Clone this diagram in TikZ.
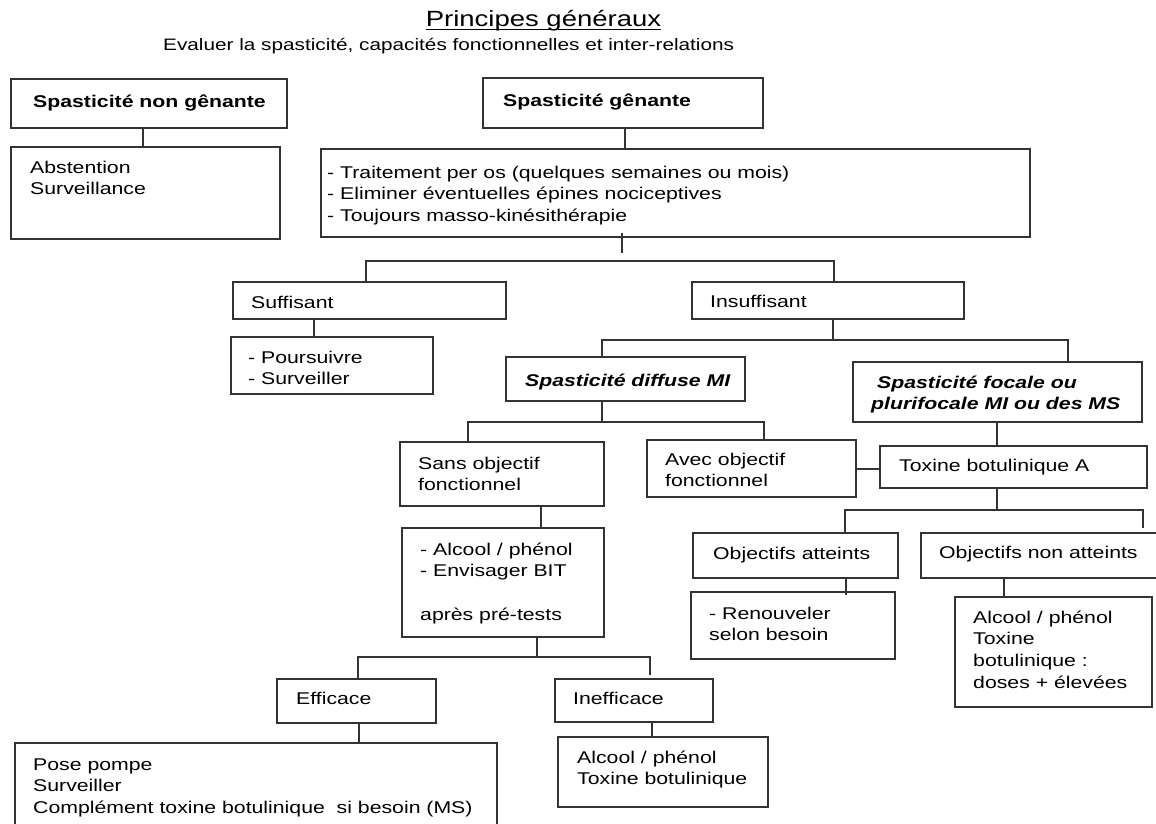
\documentclass[tikz,border=0pt]{standalone}
\usepackage{fontspec}
\setmainfont{Liberation Sans}[FakeStretch=1.25]
\usetikzlibrary{fit}
\definecolor{lc}{HTML}{333333}
\tikzset{
  bx/.style={draw=lc, line width=1.1pt, inner sep=0pt, rectangle},
  ln/.style={draw=lc, line width=1.1pt},
  tx/.style={inner sep=0pt, anchor=base west, align=left, font=\fontsize{17}{21.7}\selectfont},
  tb/.style={tx, font=\fontsize{17}{21.7}\selectfont\bfseries},
  tbi/.style={tx, font=\fontsize{17}{21.7}\selectfont\bfseries\itshape},
}
\begin{document}
\begin{tikzpicture}[x=1pt, y=-1pt]
\fill[white] (0,0) rectangle (1156,823);
\clip (0,0) rectangle (1156,823);

% title
\node[inner sep=0pt, anchor=base, font=\fontsize{22}{26}\selectfont] (title) at (543.5,26) {Principes généraux};
\draw[line width=1.1pt, black] ([yshift=-3.5pt]title.base west) -- ([yshift=-3.5pt]title.base east);
\node[inner sep=0pt, anchor=base west, font=\fontsize{16.6}{20}\selectfont] (subtitle) at (163,50) {Evaluer la spasticité, capacités fonctionnelles et inter-relations};

% boxes
\node[bx, fit={(11,79) (287,128)}] (snog) {};
\node[bx, fit={(11,147) (280,239)}] (abst) {};
\node[bx, fit={(483,78) (763,128)}] (sg) {};
\node[bx, fit={(321,149) (1030,237)}] (trait) {};
\node[bx, fit={(233,282) (506,319)}] (suff) {};
\node[bx, fit={(231,337) (433,394)}] (pours) {};
\node[bx, fit={(692,282) (964,319)}] (insuff) {};
\node[bx, fit={(506,357) (745,401)}] (diffuse) {};
\node[bx, fit={(853,362) (1142,422)}] (focale) {};
\node[bx, fit={(400,442) (604,506)}] (sans) {};
\node[bx, fit={(647,440) (856,497)}] (avec) {};
\node[bx, fit={(880,446) (1147,488)}] (toxA) {};
\node[bx, fit={(693,533) (898,578)}] (objA) {};
\node[bx, fit={(691,592) (895,659)}] (renouv) {};
\node[bx, fit={(921,533) (1165,578)}] (objNA) {};
\node[bx, fit={(955,597) (1152,707)}] (alcR) {};
\node[bx, fit={(402,528) (604,637)}] (alcL) {};
\node[bx, fit={(277,679) (436,723)}] (eff) {};
\node[bx, fit={(15,743) (497,835)}] (pose) {};
\node[bx, fit={(555,679) (713,722)}] (ineff) {};
\node[bx, fit={(558,737) (768,807)}] (alcB) {};

% texts (multi-line nodes: anchor at baseline of last line)
\node[tb] (tsnog) at (33,107) {Spasticité non gênante};
\node[tx] (tabst) at (30,194.7) {Abstention\\Surveillance};
\node[tb] (tsg) at (503,106) {Spasticité gênante};
\node[tx] (ttrait) at (327,221.4) {- Traitement per os (quelques semaines ou mois)\\- Eliminer éventuelles épines nociceptives\\- Toujours masso-kinésithérapie};
\node[tx] (tsuff) at (251,308) {Suffisant};
\node[tx] (tpours) at (248,384.7) {- Poursuivre\\- Surveiller};
\node[tx] (tinsuff) at (710,307) {Insuffisant};
\node[tbi] (tdiffuse) at (525,386) {Spasticité diffuse MI};
\node[tbi] (tfocale) at (871,409.7) {\hspace*{6pt}Spasticité focale ou\\plurifocale MI ou des MS};
\node[tx] (tsans) at (418,490.7) {Sans objectif\\fonctionnel};
\node[tx] (tavec) at (665,486.7) {Avec objectif\\fonctionnel};
\node[tx] (ttoxA) at (899,471) {Toxine botulinique A};
\node[tx] (tobjA) at (713,559) {Objectifs atteints};
\node[tx] (tobjNA) at (939,558) {Objectifs non atteints};
\node[tx] (trenouv) at (709,640.7) {- Renouveler\\selon besoin};
\node[tx] (talcR) at (973,688.1) {Alcool / phénol\\Toxine\\botulinique :\\doses + élevées};
\node[tx] (talcL) at (420,620.1) {- Alcool / phénol\\- Envisager BIT\\[21.7pt]après pré-tests};
\node[tx] (teff) at (296,704) {Efficace};
\node[tx] (tpose) at (33,813.4) {Pose pompe\\Surveiller\\Complément toxine botulinique~ si besoin (MS)};
\node[tx] (tineff) at (573,704) {Inefficace};
\node[tx] (talcB) at (577,784.7) {Alcool / phénol\\Toxine botulinique};

% connectors
\draw[ln] (snog.south -| 143,0) -- (abst.north -| 143,0);
\draw[ln] (sg.south -| 625,0) -- (trait.north -| 625,0);
\coordinate (c3) at (622,253);
\draw[ln] ([yshift=5pt]trait.south -| c3) -- (c3);
\coordinate (h3a) at (366,261); \coordinate (h3b) at (834,261);
\draw[ln] (suff.north -| h3a) -- (h3a) -- (h3b) -- (insuff.north -| h3b);
\draw[ln] (suff.south -| 314,0) -- (pours.north -| 314,0);
\coordinate (h5a) at (602,340); \coordinate (h5b) at (1068,340);
\draw[ln] (insuff.south -| 833,0) -- (h5a -| 833,0);
\draw[ln] (diffuse.north -| h5a) -- (h5a) -- (h5b) -- (focale.north -| h5b);
\coordinate (h6a) at (468,422); \coordinate (h6b) at (764,422);
\draw[ln] (diffuse.south -| 602,0) -- (h6a -| 602,0);
\draw[ln] (sans.north -| h6a) -- (h6a) -- (h6b) -- (avec.north -| h6b);
\draw[ln] (avec.east |- 0,469) -- (toxA.west |- 0,469);
\draw[ln] (focale.south -| 997,0) -- (toxA.north -| 997,0);
\coordinate (h9a) at (845,510); \coordinate (h9b) at (1143,510); \coordinate (e9) at (1143,528);
\draw[ln] (toxA.south -| 997,0) -- (h9a -| 997,0);
\draw[ln] (objA.north -| h9a) -- (h9a) -- (h9b) -- (e9);
\draw[ln] (objA.south -| 846,0) -- ([yshift=-4pt]renouv.north -| 846,0);
\draw[ln] (objNA.south -| 1004,0) -- (alcR.north -| 1004,0);
\draw[ln] (sans.south -| 541,0) -- (alcL.north -| 541,0);
\coordinate (h13a) at (358,657); \coordinate (h13b) at (650,657); \coordinate (e13) at (650,675);
\draw[ln] (alcL.south -| 537,0) -- (h13a -| 537,0);
\draw[ln] (eff.north -| h13a) -- (h13a) -- (h13b) -- (e13);
\draw[ln] (eff.south -| 359,0) -- (pose.north -| 359,0);
\draw[ln] (ineff.south -| 652,0) -- (alcB.north -| 652,0);
\end{tikzpicture}
\end{document}
